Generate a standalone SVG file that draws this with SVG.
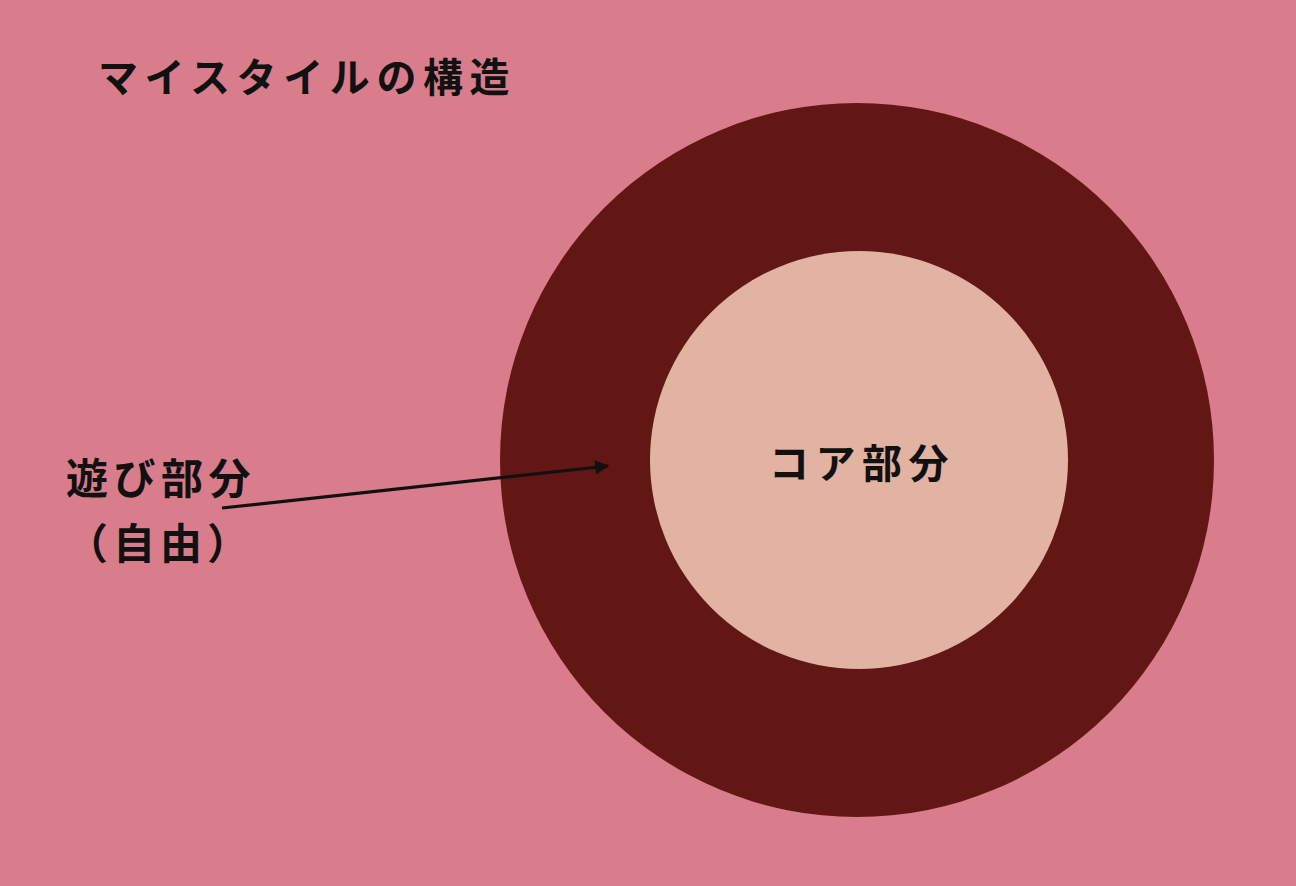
<svg xmlns="http://www.w3.org/2000/svg" width="1296" height="886" viewBox="0 0 1296 886">
<defs>
<style>
.t{font-family:"Noto Sans CJK JP","Noto Sans",sans-serif;font-weight:700;fill:#111}
</style>
<marker id="ah" viewBox="0 0 10 10" refX="9" refY="5" markerWidth="4.5" markerHeight="4.5" orient="auto" markerUnits="strokeWidth">
<path d="M0,0 L10,5 L0,10 z" fill="#111"/>
</marker>
</defs>
<rect width="1296" height="886" fill="#D97D8C"/>
<g id="title"><text class="t" x="98" y="92" font-size="40" letter-spacing="6.6">マイスタイルの構造</text></g>
<g id="outer"><circle cx="857" cy="460" r="357" fill="#621714"/></g>
<g id="core"><circle cx="859" cy="460" r="209" fill="#E2B2A2"/>
<text class="t" x="769" y="478" font-size="40" letter-spacing="6.5">コア部分</text></g>
<g id="play"><text class="t" x="66" y="494" font-size="42" letter-spacing="5.5">遊び部分</text>
<text class="t" x="66" y="559" font-size="42" letter-spacing="5">（自由）</text></g>
<g id="connectors"><line x1="222" y1="508" x2="608" y2="466" stroke="#111" stroke-width="3.2" marker-end="url(#ah)"/></g>
</svg>
